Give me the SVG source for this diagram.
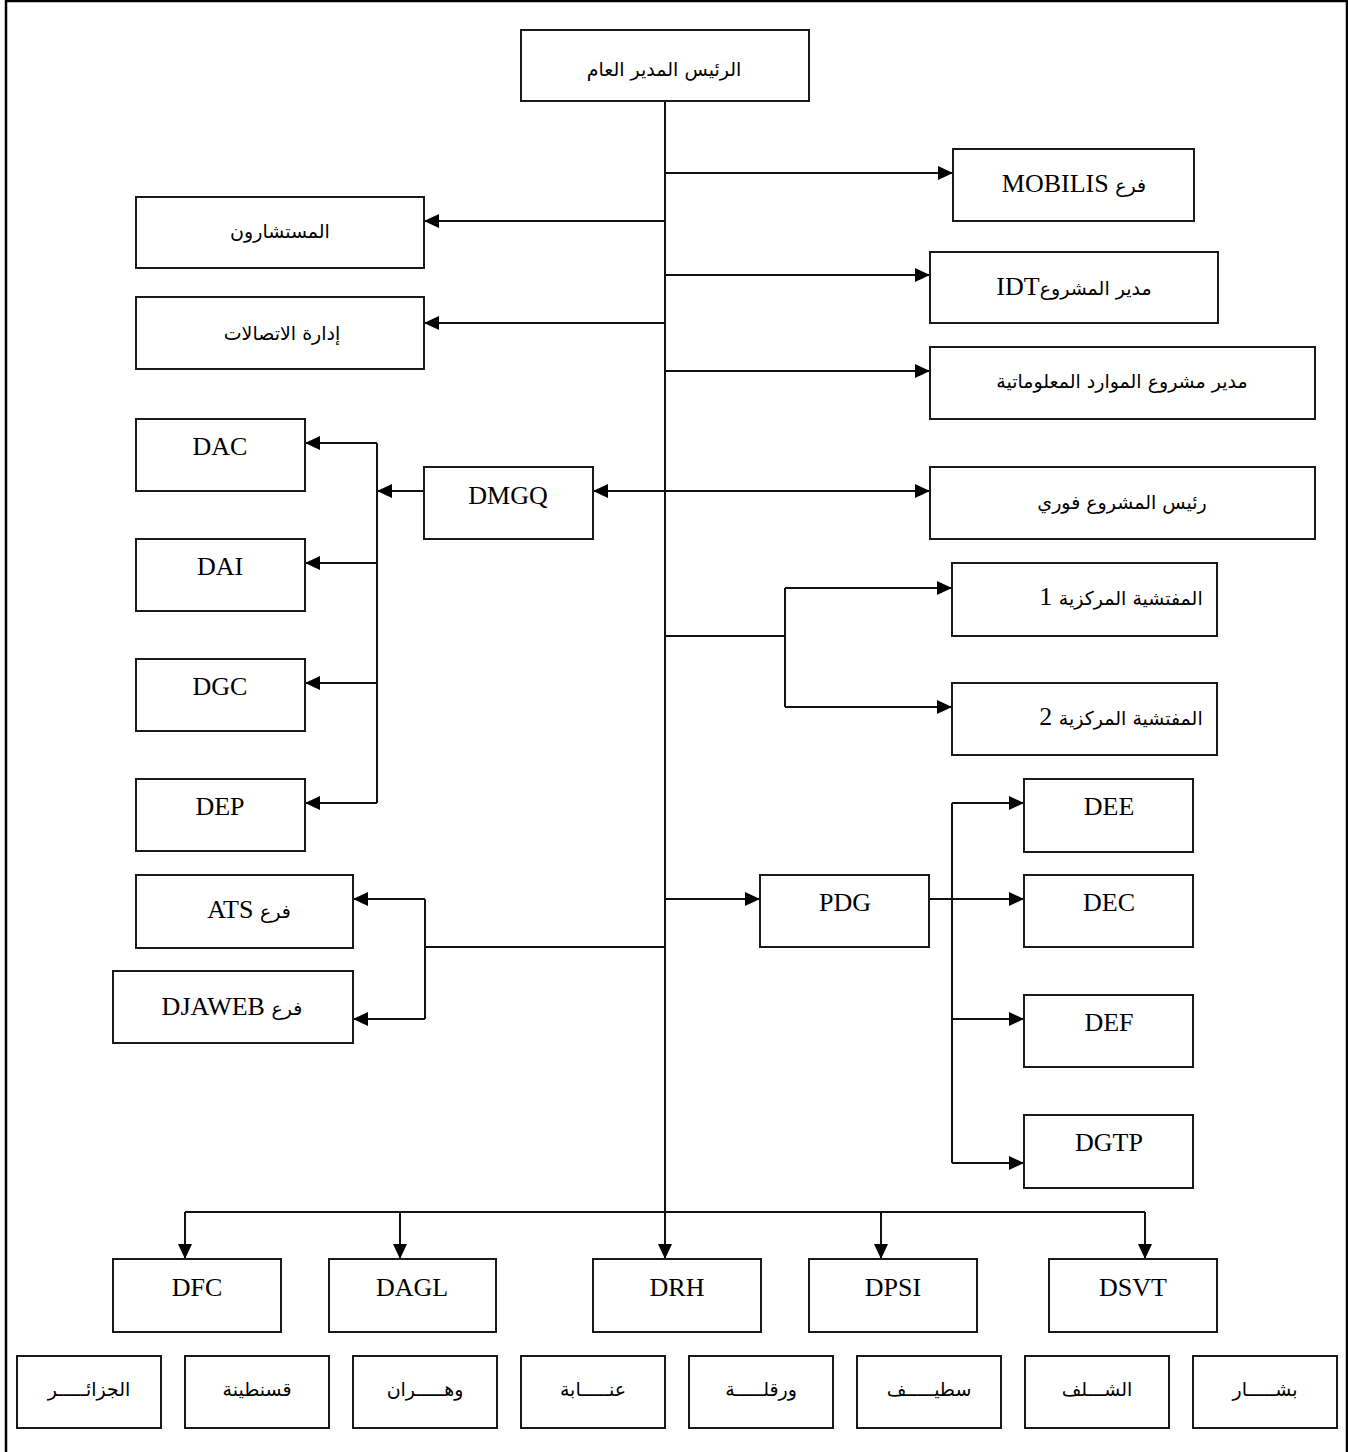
<svg xmlns="http://www.w3.org/2000/svg" width="1348" height="1452" viewBox="0 0 1348 1452">
<style>
.box{fill:#fff;stroke:#1a1a1a;stroke-width:2}
.ln{fill:none;stroke:#111;stroke-width:2}
.arr{marker-end:url(#ah)}
text{fill:#000;text-anchor:middle}
.lat{font-family:"Liberation Serif","DejaVu Serif",serif;font-size:26px}
.ar{font-family:"DejaVu Sans","Liberation Serif",sans-serif;font-size:19px}
.mix{font-family:"Liberation Serif","DejaVu Sans",serif;font-size:26px}
.mix .a{font-family:"DejaVu Sans",sans-serif;font-size:19px}
</style>
<defs>
<marker id="ah" markerUnits="userSpaceOnUse" markerWidth="16" markerHeight="14" refX="15" refY="7" orient="auto-start-reverse">
<path d="M0,0 L15,7 L0,14 z" fill="#000"/>
</marker>
</defs>
<rect width="1348" height="1452" fill="#fff"/>
<path d="M6,1452 V1 H1347 V1452" fill="none" stroke="#000" stroke-width="2.5"/>

<g id="connectors">
<path class="ln" d="M665,101 V1259" marker-end="url(#ah)"/>
<path class="ln" d="M665,173 H953" marker-end="url(#ah)"/>
<path class="ln" d="M665,275 H930" marker-end="url(#ah)"/>
<path class="ln" d="M665,371 H930" marker-end="url(#ah)"/>
<path class="ln" d="M593,491 H930" marker-start="url(#ah)" marker-end="url(#ah)"/>
<path class="ln" d="M665,221 H424" marker-end="url(#ah)"/>
<path class="ln" d="M665,323 H424" marker-end="url(#ah)"/>
<path class="ln" d="M424,491 H377" marker-end="url(#ah)"/>
<path class="ln" d="M377,443 V803"/>
<path class="ln" d="M377,443 H305" marker-end="url(#ah)"/>
<path class="ln" d="M377,563 H305" marker-end="url(#ah)"/>
<path class="ln" d="M377,683 H305" marker-end="url(#ah)"/>
<path class="ln" d="M377,803 H305" marker-end="url(#ah)"/>
<path class="ln" d="M665,636 H785"/>
<path class="ln" d="M785,588 V707"/>
<path class="ln" d="M785,588 H952" marker-end="url(#ah)"/>
<path class="ln" d="M785,707 H952" marker-end="url(#ah)"/>
<path class="ln" d="M665,899 H760" marker-end="url(#ah)"/>
<path class="ln" d="M929,899 H1024" marker-end="url(#ah)"/>
<path class="ln" d="M952,803 V1163"/>
<path class="ln" d="M952,803 H1024" marker-end="url(#ah)"/>
<path class="ln" d="M952,1019 H1024" marker-end="url(#ah)"/>
<path class="ln" d="M952,1163 H1024" marker-end="url(#ah)"/>
<path class="ln" d="M665,947 H425"/>
<path class="ln" d="M425,899 V1019"/>
<path class="ln" d="M425,899 H353" marker-end="url(#ah)"/>
<path class="ln" d="M425,1019 H353" marker-end="url(#ah)"/>
<path class="ln" d="M185,1212 H1145"/>
<path class="ln" d="M185,1212 V1259" marker-end="url(#ah)"/>
<path class="ln" d="M400,1212 V1259" marker-end="url(#ah)"/>
<path class="ln" d="M881,1212 V1259" marker-end="url(#ah)"/>
<path class="ln" d="M1145,1212 V1259" marker-end="url(#ah)"/>
</g>

<g id="n-top"><rect class="box" x="521" y="30" width="288" height="71"/><text class="ar" x="664" y="76" direction="rtl">الرئيس المدير العام</text></g>
<g id="n-mobilis"><rect class="box" x="953" y="149" width="241" height="72"/><text class="mix" x="1074" y="192" direction="rtl"><tspan class="a">فرع</tspan> MOBILIS</text></g>
<g id="n-conseillers"><rect class="box" x="136" y="197" width="288" height="71"/><text class="ar" x="280" y="238" direction="rtl">المستشارون</text></g>
<g id="n-idt"><rect class="box" x="930" y="252" width="288" height="71"/><text class="mix" x="1074" y="295" direction="rtl"><tspan class="a">مدير المشروع</tspan>IDT</text></g>
<g id="n-comm"><rect class="box" x="136" y="297" width="288" height="72"/><text class="ar" x="282" y="340" direction="rtl">إدارة الاتصالات</text></g>
<g id="n-ressources"><rect class="box" x="930" y="347" width="385" height="72"/><text class="ar" x="1122" y="388" direction="rtl">مدير مشروع الموارد المعلوماتية</text></g>
<g id="n-fawri"><rect class="box" x="930" y="467" width="385" height="72"/><text class="ar" x="1122" y="509" direction="rtl">رئيس المشروع فوري</text></g>
<g id="n-dmgq"><rect class="box" x="424" y="467" width="169" height="72"/><text class="lat" x="508" y="504">DMGQ</text></g>
<g id="n-dac"><rect class="box" x="136" y="419" width="169" height="72"/><text class="lat" x="220" y="455">DAC</text></g>
<g id="n-dai"><rect class="box" x="136" y="539" width="169" height="72"/><text class="lat" x="220" y="575">DAI</text></g>
<g id="n-dgc"><rect class="box" x="136" y="659" width="169" height="72"/><text class="lat" x="220" y="695">DGC</text></g>
<g id="n-dep"><rect class="box" x="136" y="779" width="169" height="72"/><text class="lat" x="220" y="815">DEP</text></g>
<g id="n-insp1"><rect class="box" x="952" y="563" width="265" height="73"/><text class="mix" x="1121" y="605" direction="rtl"><tspan class="a">المفتشية المركزية</tspan> 1</text></g>
<g id="n-insp2"><rect class="box" x="952" y="683" width="265" height="72"/><text class="mix" x="1121" y="725" direction="rtl"><tspan class="a">المفتشية المركزية</tspan> 2</text></g>
<g id="n-dee"><rect class="box" x="1024" y="779" width="169" height="73"/><text class="lat" x="1109" y="815">DEE</text></g>
<g id="n-pdg"><rect class="box" x="760" y="875" width="169" height="72"/><text class="lat" x="845" y="911">PDG</text></g>
<g id="n-dec"><rect class="box" x="1024" y="875" width="169" height="72"/><text class="lat" x="1109" y="911">DEC</text></g>
<g id="n-def"><rect class="box" x="1024" y="995" width="169" height="72"/><text class="lat" x="1109" y="1031">DEF</text></g>
<g id="n-dgtp"><rect class="box" x="1024" y="1115" width="169" height="73"/><text class="lat" x="1109" y="1151">DGTP</text></g>
<g id="n-ats"><rect class="box" x="136" y="875" width="217" height="73"/><text class="mix" x="249" y="918" direction="rtl"><tspan class="a">فرع</tspan> ATS</text></g>
<g id="n-djaweb"><rect class="box" x="113" y="971" width="240" height="72"/><text class="mix" x="232" y="1015" direction="rtl"><tspan class="a">فرع</tspan> DJAWEB</text></g>
<g id="n-dfc"><rect class="box" x="113" y="1259" width="168" height="73"/><text class="lat" x="197" y="1296">DFC</text></g>
<g id="n-dagl"><rect class="box" x="329" y="1259" width="167" height="73"/><text class="lat" x="412" y="1296">DAGL</text></g>
<g id="n-drh"><rect class="box" x="593" y="1259" width="168" height="73"/><text class="lat" x="677" y="1296">DRH</text></g>
<g id="n-dpsi"><rect class="box" x="809" y="1259" width="168" height="73"/><text class="lat" x="893" y="1296">DPSI</text></g>
<g id="n-dsvt"><rect class="box" x="1049" y="1259" width="168" height="73"/><text class="lat" x="1133" y="1296">DSVT</text></g>
<g id="n-alger"><rect class="box" x="17" y="1356" width="144" height="72"/><text class="ar" x="89" y="1396" direction="rtl">الجزائـــــر</text></g>
<g id="n-constantine"><rect class="box" x="185" y="1356" width="144" height="72"/><text class="ar" x="257" y="1396" direction="rtl">قسنطينة</text></g>
<g id="n-oran"><rect class="box" x="353" y="1356" width="144" height="72"/><text class="ar" x="425" y="1396" direction="rtl">وهـــــران</text></g>
<g id="n-annaba"><rect class="box" x="521" y="1356" width="144" height="72"/><text class="ar" x="593" y="1396" direction="rtl">عنـــــابة</text></g>
<g id="n-ouargla"><rect class="box" x="689" y="1356" width="144" height="72"/><text class="ar" x="761" y="1396" direction="rtl">ورقلـــــة</text></g>
<g id="n-setif"><rect class="box" x="857" y="1356" width="144" height="72"/><text class="ar" x="929" y="1396" direction="rtl">سطيـــــف</text></g>
<g id="n-chlef"><rect class="box" x="1025" y="1356" width="144" height="72"/><text class="ar" x="1097" y="1396" direction="rtl">الشـــلف</text></g>
<g id="n-bechar"><rect class="box" x="1193" y="1356" width="144" height="72"/><text class="ar" x="1265" y="1396" direction="rtl">بشـــــار</text></g>
</svg>
